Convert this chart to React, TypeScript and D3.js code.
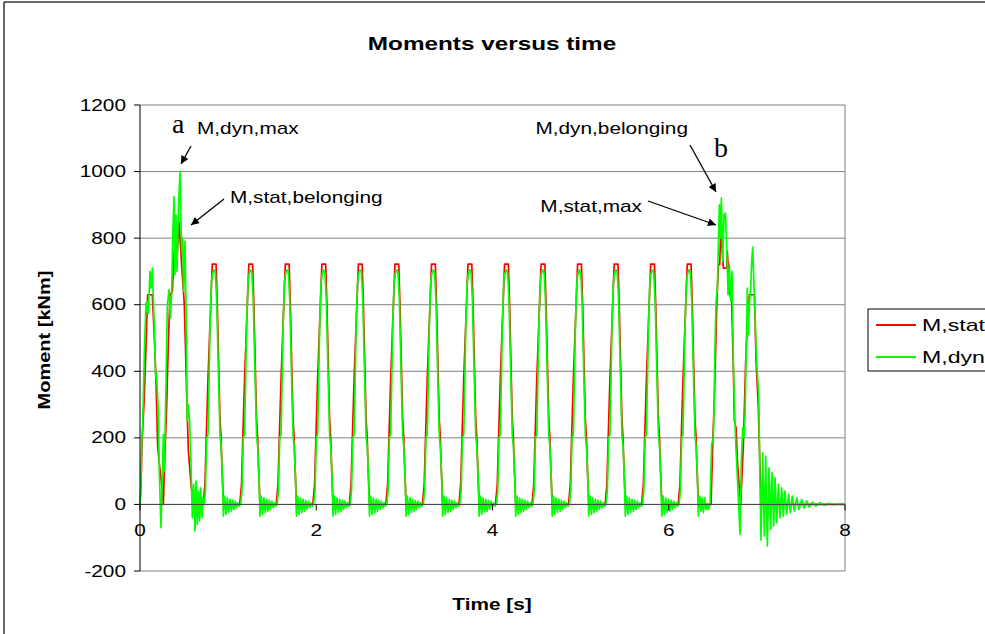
import React from "react";
import * as d3 from "d3";

// ---------- data (time [s], moment [kNm]) ----------
const xTicks = [0, 2, 4, 6, 8];
const yTicks = [-200, 0, 200, 400, 600, 800, 1000, 1200];

// irregular start of the record
const statStart: [number, number][] = [
  [0, 0], [0.012, 60], [0.022, 180], [0.05, 330], [0.087, 630], [0.14, 630], [0.163, 500],
  [0.182, 370], [0.2, 180], [0.216, 130], [0.246, 60], [0.265, 0], [0.276, 100], [0.303, 300],
  [0.321, 480], [0.34, 630], [0.367, 640], [0.389, 760], [0.416, 720], [0.442, 850], [0.473, 720],
  [0.503, 600], [0.53, 330], [0.548, 165], [0.579, 60], [0.605, 0], [0.712, 0],
];
const dynStart: [number, number][] = [
  [0, 0], [0.008, 45], [0.02, 195], [0.03, 235], [0.049, 450], [0.068, 605], [0.076, 580],
  [0.084, 610], [0.095, 575], [0.113, 700], [0.125, 650], [0.14, 710], [0.159, 560], [0.178, 380],
  [0.186, 395], [0.193, 360], [0.208, 280], [0.219, 100], [0.238, -70], [0.253, 80], [0.265, 210],
  [0.276, 100], [0.291, 300], [0.31, 600], [0.329, 645], [0.344, 560], [0.359, 630], [0.371, 800],
  [0.386, 925], [0.397, 690], [0.408, 870], [0.42, 700], [0.435, 880], [0.454, 1000], [0.465, 850],
  [0.473, 760], [0.484, 800], [0.495, 640], [0.51, 790], [0.522, 600], [0.537, 250], [0.548, 300],
  [0.563, 250], [0.579, 120], [0.594, -40], [0.609, 60], [0.624, -80], [0.635, 70], [0.65, -60],
  [0.662, 40], [0.677, -50], [0.688, 50], [0.704, -40], [0.715, 20],
];

// regular load cycles: peak times and the measured shape of one cycle (offset from peak)
const cycleCenters = [0.842, 1.257, 1.671, 2.086, 2.5, 2.915, 3.33, 3.744, 4.159, 4.573, 4.988, 5.403, 5.817, 6.232];
const statCycle: [number, number][] = [
  [-0.125, 0], [-0.105, 60], [-0.09, 200], [-0.07, 380], [-0.045, 560], [-0.022, 722], [0.021, 722],
  [0.035, 600], [0.05, 430], [0.065, 260], [0.078, 200], [0.09, 100], [0.105, 0],
];
const dynCycle: [number, number][] = [
  [-0.115, 0], [-0.1, 40], [-0.085, 200], [-0.07, 210], [-0.047, 535], [-0.032, 665], [-0.017, 695],
  [-0.002, 705], [0.013, 695], [0.028, 615], [0.047, 405], [0.066, 205], [0.078, 175], [0.093, 85],
  [0.104, -35], [0.119, 25], [0.134, -30], [0.149, 20], [0.165, -25], [0.18, 15], [0.195, -20],
  [0.21, 12], [0.225, -15], [0.24, 10], [0.255, -10], [0.27, 5], [0.286, -5], [0.297, 0],
];

// irregular end of the record
const statEnd: [number, number][] = [
  [6.355, 0], [6.48, 0], [6.5, 190], [6.515, 300], [6.53, 440], [6.545, 600], [6.563, 720],
  [6.578, 720], [6.593, 840], [6.605, 770], [6.62, 710], [6.658, 710], [6.665, 760], [6.677, 700],
  [6.695, 630], [6.714, 610], [6.733, 410], [6.745, 250], [6.764, 230], [6.779, 130], [6.801, 50],
  [6.817, 0], [6.828, 70], [6.847, 180], [6.873, 430], [6.896, 570], [6.915, 630], [6.972, 630],
  [6.991, 430], [7.017, 290], [7.036, 100], [7.055, 0], [8, 0],
];
const dynEnd: [number, number][] = [
  [6.355, 20], [6.366, -20], [6.378, 20], [6.393, -25], [6.408, 20], [6.423, -15], [6.438, 0],
  [6.45, -15], [6.468, 0], [6.487, 180], [6.506, 200], [6.514, 280], [6.525, 480], [6.537, 610],
  [6.552, 650], [6.563, 780], [6.574, 900], [6.586, 800], [6.597, 920], [6.612, 730], [6.627, 870],
  [6.643, 875], [6.658, 770], [6.673, 630], [6.688, 720], [6.703, 610], [6.718, 700], [6.733, 430],
  [6.748, 270], [6.764, 160], [6.779, 80], [6.809, -90], [6.824, 130], [6.839, 230], [6.854, 200],
  [6.866, 270], [6.877, 430], [6.892, 650], [6.904, 510], [6.915, 600], [6.93, 650], [6.941, 730],
  [6.953, 773], [6.968, 650], [6.979, 580], [6.991, 470], [7.006, 390], [7.021, 330], [7.033, 100],
  [7.047, -107], [7.066, 155], [7.085, -95], [7.1, 145], [7.119, -125], [7.138, 110], [7.157, -75],
  [7.172, 95], [7.191, -65], [7.206, 80], [7.225, -55], [7.244, 60], [7.262, -40], [7.281, 50],
  [7.3, -35], [7.319, 40], [7.338, -30], [7.361, 30], [7.38, -25], [7.402, 25], [7.425, -20],
  [7.452, 20], [7.478, -15], [7.508, 15], [7.535, -11], [7.565, 11], [7.595, -8], [7.633, 7],
  [7.671, -5], [7.716, 5], [7.762, -2], [7.811, 3], [7.868, -1], [7.925, 2], [8, 0],
];

const seriesNames = ["M,stat", "M,dyn"];
const seriesColors = ["#ff0000", "#00ff00"];

// ---------- build series ----------
function build(start: [number, number][], cycle: [number, number][], end: [number, number][]) {
  const endT = end[0][0];
  const mid = cycleCenters
    .flatMap((c) => cycle.map(([dt, v]) => [c + dt, v] as [number, number]))
    .filter(([t]) => t < endT && t > start[start.length - 1][0]);
  return [...start, ...mid, ...end];
}
const statSeries = build(statStart, statCycle, statEnd);
const dynSeries = build(dynStart, dynCycle, dynEnd);

const FONT = "'Liberation Sans', Arial, Helvetica, sans-serif";
const SERIF = "'Liberation Serif', 'Times New Roman', serif";

function SText(props: {
  x: number; y: number; sx?: number; anchor?: string; rotate?: number; size?: number;
  bold?: boolean; family?: string; children: React.ReactNode;
}) {
  const { x, y, sx = 1.3, anchor = "start", rotate = 0, size = 16, bold = false, family = FONT } = props;
  return (
    <text
      transform={`translate(${x},${y}) rotate(${rotate}) scale(${sx},1)`}
      textAnchor={anchor}
      fontFamily={family}
      fontSize={size}
      fontWeight={bold ? "bold" : "normal"}
      fill="#000"
    >
      {props.children}
    </text>
  );
}

export default function App() {
  const W = 985, H = 634;
  const x = d3.scaleLinear().domain([0, 8]).range([140, 845]);
  const y = d3.scaleLinear().domain([-200, 1200]).range([571, 105]);
  const line = d3.line<[number, number]>().x((d) => x(d[0])).y((d) => y(d[1]));

  return (
    <svg width={W} height={H} style={{ position: "absolute", left: 0, top: 0, background: "#fff", overflow: "hidden" }}>
      <defs>
        <marker id="arr" viewBox="0 0 10 10" refX="10" refY="5" markerUnits="userSpaceOnUse"
          markerWidth="10" markerHeight="8" orient="auto">
          <path d="M0,0 L10,5 L0,10 z" fill="#000" />
        </marker>
      </defs>
      <rect x={0} y={0} width={W} height={H} fill="#fff" />
      <line x1={4} x2={W} y1={2} y2={2} stroke="#333" strokeWidth={1.5} />
      <line x1={4} x2={4} y1={2} y2={H} stroke="#333" strokeWidth={1.5} />

      <SText x={492} y={50} anchor="middle" size={18} bold sx={1.35}>Moments versus time</SText>

      {/* grid */}
      {yTicks.map((v) => (
        <line key={v} x1={x(0)} x2={x(8)} y1={y(v)} y2={y(v)} stroke="#808080" strokeWidth={1} />
      ))}
      <line x1={x(8)} x2={x(8)} y1={y(1200)} y2={y(-200)} stroke="#808080" strokeWidth={1} />

      {/* series */}
      <path d={line(statSeries) || ""} fill="none" stroke={seriesColors[0]} strokeWidth={1.7} strokeLinejoin="round" />
      <path d={line(dynSeries) || ""} fill="none" stroke={seriesColors[1]} strokeWidth={1.7} strokeLinejoin="round" />

      {/* axes */}
      <line x1={x(0)} x2={x(0)} y1={y(1200)} y2={y(-200)} stroke="#000" strokeWidth={1} />
      <line x1={x(0)} x2={x(8)} y1={y(0)} y2={y(0)} stroke="#444" strokeWidth={1} />
      {yTicks.map((v) => (
        <g key={v}>
          <line x1={x(0) - 6} x2={x(0)} y1={y(v)} y2={y(v)} stroke="#000" />
          <SText x={126} y={y(v) + 5.5} anchor="end">{String(v)}</SText>
        </g>
      ))}
      {xTicks.map((v) => (
        <g key={v}>
          <line x1={x(v)} x2={x(v)} y1={y(0)} y2={y(0) + 6} stroke="#000" />
          <SText x={x(v)} y={y(0) + 32} anchor="middle">{String(v)}</SText>
        </g>
      ))}

      <SText x={50} y={340} anchor="middle" rotate={-90} bold sx={1.25}>Moment [kNm]</SText>
      <SText x={492} y={610} anchor="middle" bold sx={1.3}>Time [s]</SText>

      {/* annotations */}
      <SText x={172} y={133} size={28} family={SERIF} sx={1}>a</SText>
      <SText x={197} y={134}>M,dyn,max</SText>
      <line x1={191} y1={146} x2={181} y2={164} stroke="#000" strokeWidth={1.3} markerEnd="url(#arr)" />
      <SText x={230} y={203}>M,stat,belonging</SText>
      <line x1={224} y1={199} x2={191} y2={225} stroke="#000" strokeWidth={1.3} markerEnd="url(#arr)" />

      <SText x={688} y={134} anchor="end">M,dyn,belonging</SText>
      <SText x={714} y={157} size={28} family={SERIF} sx={1}>b</SText>
      <line x1={690} y1={145} x2={716} y2={192} stroke="#000" strokeWidth={1.3} markerEnd="url(#arr)" />
      <SText x={642} y={212} anchor="end">M,stat,max</SText>
      <line x1={648} y1={201} x2={716} y2={225} stroke="#000" strokeWidth={1.3} markerEnd="url(#arr)" />

      {/* legend */}
      <rect x={868} y={309} width={200} height={62} fill="#fff" stroke="#000" strokeWidth={1} />
      {seriesNames.map((n, i) => (
        <g key={n}>
          <line x1={876} x2={916} y1={325 + i * 32} y2={325 + i * 32} stroke={seriesColors[i]} strokeWidth={2} />
          <SText x={922} y={331 + i * 32} size={17} sx={1.36}>{n}</SText>
        </g>
      ))}
    </svg>
  );
}
